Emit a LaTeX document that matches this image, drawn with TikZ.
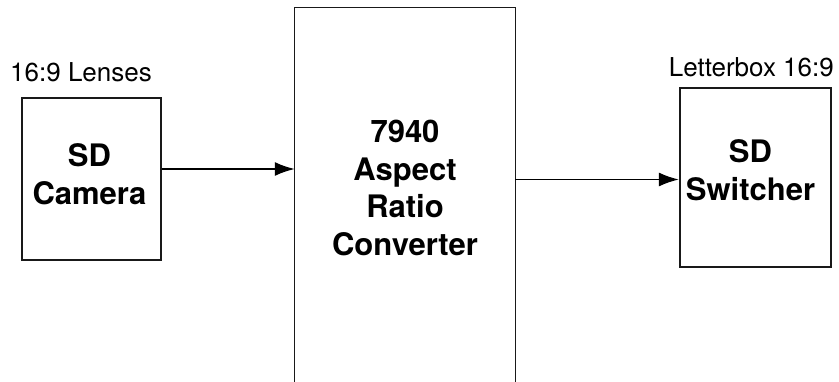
\documentclass[tikz,border=0pt]{standalone}
\usepackage{fontspec}
\setmainfont{TeX Gyre Heros}
\usetikzlibrary{arrows.meta}
\begin{document}
\begin{tikzpicture}[x=1pt,y=1pt,
  blk/.style={draw=black!90,line width=2.2pt,inner sep=0pt},
  blktxt/.style={inner sep=0pt,align=center,font=\fontsize{31}{38}\selectfont\bfseries},
  lbl/.style={inner sep=0pt,font=\fontsize{26}{30}\selectfont},
  conn/.style={line width=1.8pt,-{Latex[length=20pt,width=14pt]}}]
\useasboundingbox (0,0) rectangle (839,381);
% camera
\node[blk,minimum width=139pt,minimum height=162pt,
      label={[blktxt,yshift=5pt,xshift=-2pt]center:{SD\\Camera}}] (cam) at (91.5,202) {};
\node[lbl,anchor=base west] (lens) at (10,299) {16:9 Lenses};
% converter
\node[inner sep=0pt,minimum width=220pt,minimum height=360pt,align=center,
      font=\fontsize{31}{37.5}\selectfont\bfseries] (conv) at (405,193) {7940\\Aspect\\Ratio\\Converter};
\draw[line width=1.3pt,black!90] ([yshift=-20pt]conv.south west) -- (conv.north west) -- (conv.north east) -- ([yshift=-20pt]conv.south east);
% switcher
\node[blk,minimum width=151pt,minimum height=179pt,
      label={[blktxt,yshift=7pt,xshift=-5pt]center:{SD\\Switcher}}] (sw) at (755.5,203.5) {};
\node[lbl,anchor=base east] (lb) at (834,304) {Letterbox 16:9};
% connectors
\draw[conn] ([yshift=10pt]cam.east) -- ([yshift=10pt]conv.west |- cam.east);
\draw[conn] ([yshift=-2pt]conv.east |- sw.west) -- ([yshift=-2pt]sw.west);
\end{tikzpicture}
\end{document}
